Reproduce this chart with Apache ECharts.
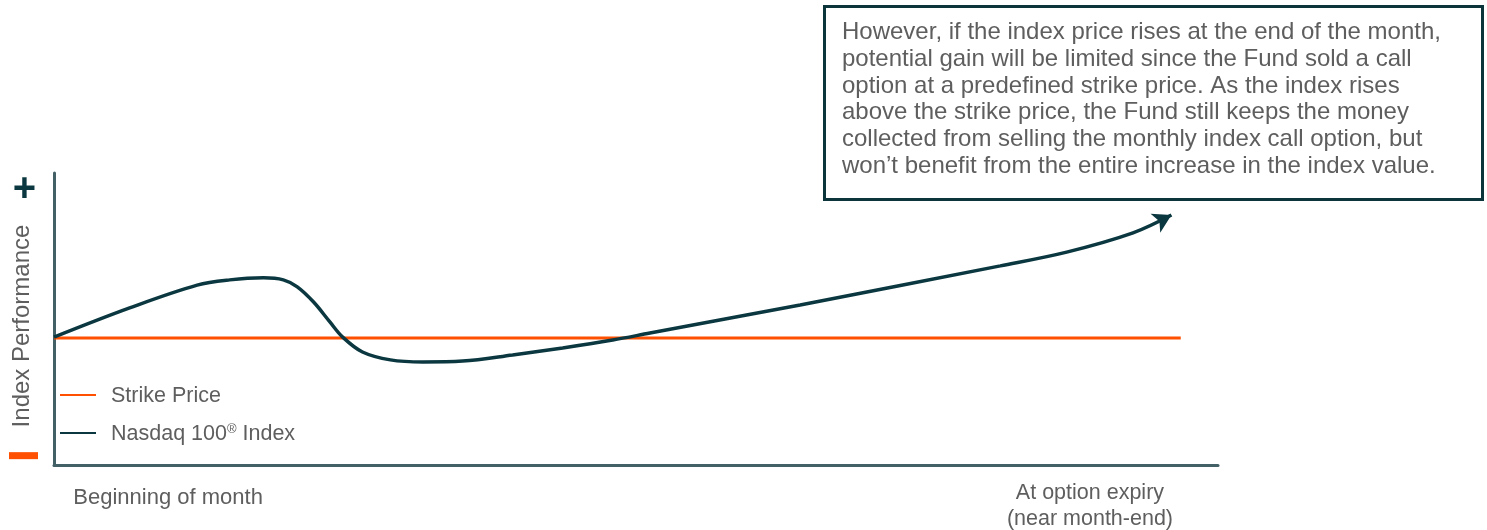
<!DOCTYPE html>
<html>
<head>
<meta charset="utf-8">
<script src="https://cdn.jsdelivr.net/npm/echarts@6/dist/echarts.min.js"></script>
<style>
html,body{margin:0;padding:0;background:#fff;}
#chart{width:1487px;height:530px;}
</style>
</head>
<body>
<div id="chart"></div>
<script>
// ---- data (arbitrary units: x = time through month 0..100, y = index performance 0..100) ----
const indexX = [0, 6.5, 12.3, 15.1, 18.0, 19.7, 20.9, 22.3, 23.7, 24.8, 26.5, 28.9, 31.7, 35.1, 39.4, 43.7, 48.0, 51.2, 64.1, 81.3, 87.0, 92.7, 96.0];
const indexY = [43.8, 53.8, 61.6, 63.4, 64.1, 63.4, 61.0, 55.8, 49.0, 43.8, 38.7, 36.0, 35.3, 35.6, 37.7, 40.1, 42.8, 45.2, 54.8, 68.2, 72.9, 79.5, 85.6];
const strikeX = [0, 96.8];
const strikeY = [43.5, 43.5];
const xTickValues = [9.8, 89.0];
const xTickLabels = ['Beginning of month', 'At option expiry\n(near month-end)'];
const yTickValues = [3.2, 94.3];
const yTickLabels = ['minus', 'plus'];
const seriesNames = ['Strike Price', 'Nasdaq 100® Index'];
const yAxisName = 'Index Performance';
const noteLines = [
  'However, if the index price rises at the end of the month,',
  'potential gain will be limited since the Fund sold a call',
  'option at a predefined strike price. As the index rises',
  'above the strike price, the Fund still keeps the money',
  'collected from selling the monthly index call option, but',
  'won\u2019t benefit from the entire increase in the index value.'
];

const ORANGE = '#fe5000';
const DARK = '#0b3840';
const AXIS = '#436066';
const GRAY = '#5e5e5e';
const FONT = '"Liberation Sans", Arial, sans-serif';

const indexData = indexX.map((x, i) => {
  const item = { value: [x, indexY[i]] };
  if (i === indexX.length - 1) {
    item.symbol = 'arrow';
    item.symbolSize = [16, 18];
    item.symbolRotate = -63;
    item.itemStyle = { color: DARK, borderWidth: 0 };
  }
  return item;
});
const strikeData = strikeX.map((x, i) => [x, strikeY[i]]);

const chart = echarts.init(document.getElementById('chart'), null, { renderer: 'canvas' });
chart.setOption({
  backgroundColor: '#ffffff',
  animation: false,
  textStyle: { fontFamily: FONT },
  grid: { left: 54, right: 269, top: 173, bottom: 65, containLabel: false, outerBoundsMode: 'none' },
  xAxis: {
    type: 'value', min: 0, max: 100,
    axisLine: { show: true, onZero: false, lineStyle: { color: AXIS, width: 3 } },
    axisTick: { show: false },
    splitLine: { show: false },
    axisLabel: {
      customValues: xTickValues,
      margin: 15,
      color: GRAY, fontSize: 21.5, fontFamily: FONT, lineHeight: 26,
      formatter: v => {
        const i = xTickValues.indexOf(v);
        return i === 0 ? '{b|' + xTickLabels[0] + '}' : xTickLabels[i];
      },
      rich: { b: { fontSize: 22, color: GRAY, fontFamily: FONT, padding: [9, 0, 0, 0] } }
    }
  },
  yAxis: {
    type: 'value', min: 0, max: 100,
    name: yAxisName, nameLocation: 'middle', nameGap: 20, nameRotate: 90,
    nameMoveOverlap: false,
    nameTextStyle: { color: GRAY, fontSize: 24, fontFamily: FONT, padding: [0, 14, 0, 0] },
    axisLine: { show: true, onZero: false, lineStyle: { color: AXIS, width: 3 } },
    axisTick: { show: false },
    splitLine: { show: false },
    axisLabel: {
      customValues: yTickValues,
      margin: 16,
      hideOverlap: false,
      formatter: v => {
        const i = yTickValues.indexOf(v);
        return yTickLabels[i] === 'plus' ? '{p|+}' : '{m|}';
      },
      rich: {
        p: { fontSize: 40, fontWeight: 'bold', color: DARK, fontFamily: FONT, lineHeight: 34, padding: [0, 2, 0, 0] },
        m: { backgroundColor: ORANGE, width: 29, height: 7 }
      }
    }
  },
  legend: {
    show: true,
    orient: 'vertical',
    left: 55, top: 380,
    itemWidth: 36, itemHeight: 2, itemGap: 15.5,
    icon: 'rect',
    data: seriesNames,
    textStyle: {
      color: GRAY, fontSize: 21.5, fontFamily: FONT, padding: [2, 0, 0, 10],
      rich: { sup: { fontSize: 13, color: GRAY, fontFamily: FONT, verticalAlign: 'top', padding: [0, 0, 10, 0] } }
    },
    formatter: n => n.replace('®', '{sup|®}')
  },
  series: [
    {
      name: seriesNames[0], type: 'line', data: strikeData,
      symbol: 'none', lineStyle: { color: ORANGE, width: 3 }, itemStyle: { color: ORANGE },
      z: 2
    },
    {
      name: seriesNames[1], type: 'line', data: indexData,
      symbol: 'none', smooth: 0.35,
      lineStyle: { color: DARK, width: 3.5 }, itemStyle: { color: DARK },
      z: 3
    }
  ],
  graphic: [
    {
      type: 'rect', left: 823, top: 5,
      shape: { width: 658, height: 193 },
      style: { fill: '#ffffff', stroke: '#0c343b', lineWidth: 3 }
    },
    {
      type: 'text', left: 842, top: 19,
      style: {
        text: noteLines.join('\n'),
        font: '24px ' + FONT,
        fill: GRAY,
        lineHeight: 26.8
      }
    }
  ]
});
</script>
</body>
</html>
